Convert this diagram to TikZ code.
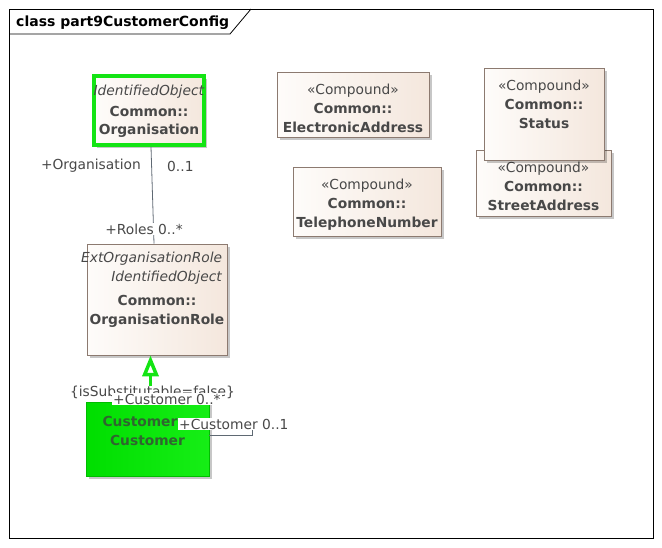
\documentclass[tikz,border=0pt]{standalone}
\usepackage{fontspec}
\setmainfont{DejaVu Sans}
\usetikzlibrary{positioning,calc,shadows,arrows.meta}
\definecolor{cimborder}{RGB}{140,122,112}
\definecolor{cimfilla}{RGB}{254,252,250}
\definecolor{cimfillb}{RGB}{244,231,221}
\definecolor{cimtext}{RGB}{72,72,72}
\definecolor{cimgreen}{RGB}{20,228,20}
\definecolor{custgreena}{RGB}{0,222,0}
\definecolor{custgreenb}{RGB}{22,238,22}
\definecolor{custtext}{RGB}{48,100,48}
\definecolor{cimline}{RGB}{95,105,115}
\tikzset{
  classbox/.style={rectangle, draw=cimborder, line width=0.8pt, left color=cimfilla, right color=cimfillb, inner sep=0pt,
    drop shadow={shadow xshift=3pt, shadow yshift=-3pt, fill=black, opacity=0.22}},
  orgbox/.style={classbox, draw=cimgreen, line width=3.5pt},
  custbox/.style={classbox, draw=custgreena!85!black, left color=custgreena, right color=custgreenb},
  classtext/.style={inner sep=0pt, align=center},
  assoc/.style={draw=cimline, line width=0.8pt},
  gen/.style={draw=cimgreen, line width=3.5pt, -{Triangle[open, length=21pt, width=16pt]}},
  rolelabel/.style={inner sep=1pt, fill=white}
}
\newcommand{\cimcompound}[5]{\node at (#1) (#2) [classbox, minimum width=#3, minimum height=#4] {};
  \node [classtext, below=12pt of #2.north] (#2-text) {«Compound»\\\textbf{Common::}\\\textbf{#5}};}

\begin{document}
\begin{tikzpicture}[x=1pt, y=-1pt, font=\fontsize{13.8}{19}\selectfont, text=cimtext]
\useasboundingbox (0,0) rectangle (662,547);

% frame
\draw [black, line width=1pt] (9,9) rectangle (653,538);
\draw [black, line width=0.8pt] (9,34) -- (230,34) -- (251,9);
\node [anchor=base west, font=\fontsize{14}{16}\selectfont\bfseries, text=black, inner sep=0pt] (title) at (16,26) {class part9CustomerConfig};

% compounds
\cimcompound {353,104.5} {elec} {152} {65} {ElectronicAddress};
\cimcompound {367,201.5} {tel} {148} {69} {TelephoneNumber};
\cimcompound {543.5,183} {street} {135} {66} {StreetAddress};
\cimcompound {544,114} {status} {120} {92} {Status};

% classes
\node at (149,110.5) (org) [orgbox, minimum width=110, minimum height=69] {};
\node [classtext, below=11pt of org.north] (org-text) {\textit{IdentifiedObject}\\[2pt]\textbf{Common::}\\[-1pt]\textbf{Organisation}};

\node at (157,299.5) (role) [classbox, minimum width=140, minimum height=111] {};
\node [classtext, align=right, below left=8pt and 5pt of role.north east] (role-stereo) {\textit{ExtOrganisationRole}\\\textit{IdentifiedObject}};
\node [classtext, below=51pt of role.north] (role-text) {\textbf{Common::}\\\textbf{OrganisationRole}};

\node at (147.5,439) (cust) [custbox, minimum width=123, minimum height=74] {};
\node [classtext, text=custtext, below=14pt of cust.north] (cust-text) {\textbf{Customer}\hspace*{15pt}\\\textbf{Customer}};

% connectors
\draw [assoc] ($(org.south)+(2pt,0)$) -- ($(role.north)+(-3pt,0)$);
\node [anchor=east, inner sep=0pt] (orgend) at (141,166) {+Organisation};
\node [anchor=west, inner sep=0pt] (orgmult) at (167,166) {0..1};
\node [rolelabel] (roleend) at (144,229) {+Roles 0..*};

\draw [gen] ($(cust.north)+(3pt,0)$) -- ($(role.south)+(-6.5pt,0)$);
\node [rolelabel, inner sep=0pt] (subst) at (152.5,392.5) {\{isSubstitutable=false\}};

\coordinate (selfa) at (252,435);
\coordinate (selfb) at (252,430);
\draw [assoc] (cust.east |- selfa) -- (selfa) -- (selfb);
\node [rolelabel, anchor=west] (custmany) at (112,399) {+Customer 0..*};
\node [rolelabel, anchor=west] (custone) at (178,424) {+Customer 0..1};
\end{tikzpicture}
\end{document}
